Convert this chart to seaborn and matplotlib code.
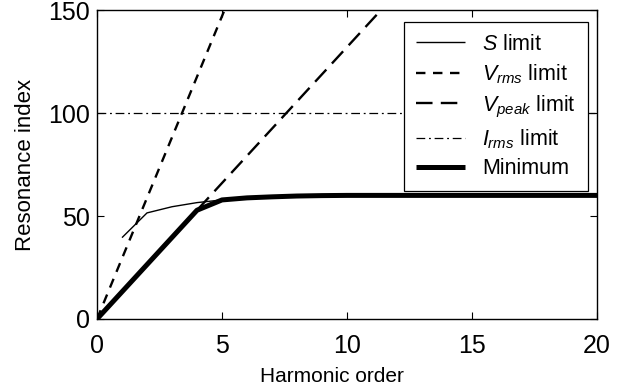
import matplotlib
matplotlib.use("Agg")
import matplotlib.pyplot as plt
import seaborn as sns
import pandas as pd
import numpy as np

# ---- data ----
s_harm = [1, 2, 3, 4, 5, 6, 7, 8, 9, 10, 11, 12, 13, 14, 15, 16, 17, 18, 19, 20]
s_limit = [39.5, 51.5, 54.5, 56.5, 57.8, 58.8, 59.3, 59.7, 59.9, 60, 60, 60, 60, 60, 60, 60, 60, 60, 60, 60]
vrms_harm = [0, 1, 2, 3, 4, 5, 6]
vrms_limit = [0, 29.4, 58.8, 88.2, 117.6, 147, 176.4]
vpeak_harm = [0, 1, 2, 3, 4, 5, 6, 7, 8, 9, 10, 11, 12, 13]
vpeak_limit = [0, 13.2, 26.4, 39.6, 52.8, 66, 79.2, 92.4, 105.6, 118.8, 132, 145.2, 158.4, 171.6]
irms_harm = [0, 20]
irms_limit = [100, 100]
min_harm = [0, 1, 2, 3, 4, 5, 6, 7, 8, 9, 10, 11, 12, 13, 14, 15, 16, 17, 18, 19, 20]
minimum = [0, 13.2, 26.4, 39.6, 52.8, 57.8, 58.8, 59.3, 59.7, 59.9, 60, 60, 60, 60, 60, 60, 60, 60, 60, 60, 60]

x_ticks = [0, 5, 10, 15, 20]
y_ticks = [0, 50, 100, 150]

sns.set_theme(style="ticks")
plt.rcParams["font.family"] = ["Liberation Sans", "DejaVu Sans"]
plt.rcParams["mathtext.fontset"] = "custom"
plt.rcParams["mathtext.rm"] = "Liberation Sans"
plt.rcParams["mathtext.it"] = "Liberation Sans:italic"
plt.rcParams["text.color"] = "black"
plt.rcParams["axes.labelcolor"] = "black"

fig = plt.figure(figsize=(6.23, 3.92), dpi=100)
ax = fig.add_axes([97 / 623, 1 - 319 / 392, 500 / 623, 309 / 392])

sns.lineplot(x=s_harm, y=s_limit, ax=ax, color="black", lw=1.0,
             label=r"$S$ limit")
sns.lineplot(x=vrms_harm, y=vrms_limit, ax=ax, color="black", lw=1.7,
             label=r"$V_{rms}$ limit")
sns.lineplot(x=vpeak_harm, y=vpeak_limit, ax=ax, color="black", lw=1.7,
             label=r"$V_{peak}$ limit")
sns.lineplot(x=irms_harm, y=irms_limit, ax=ax, color="black", lw=0.9,
             label=r"$I_{rms}$ limit")
sns.lineplot(x=min_harm, y=minimum, ax=ax, color="black", lw=3.6,
             label="Minimum")

lines = ax.get_lines()
lines[1].set_dashes([4.0, 3.2])
lines[2].set_dashes([7.0, 3.5])
lines[3].set_dashes([7, 3, 1.5, 3])
for ln in lines:
    ln.set_solid_capstyle("butt")

ax.set_xlim(0, 20)
ax.set_ylim(0, 150)
ax.set_xticks(x_ticks)
ax.set_yticks(y_ticks)
ax.tick_params(direction="in", length=5, width=0.8, labelsize=18,
               top=True, right=True, colors="black", labelcolor="black", pad=5)
ax.tick_params(axis="x", pad=11)
for sp in ax.spines.values():
    sp.set_visible(True)
    sp.set_color("black")
    sp.set_linewidth(1.0)

ax.set_xlabel("Harmonic order", fontsize=15, labelpad=5, color="black")
ax.xaxis.set_label_coords(0.47, -0.155)
ax.set_ylabel("Resonance index", fontsize=16, labelpad=9, color="black")

leg = ax.legend(loc="upper right", bbox_to_anchor=((588 - 97) / 500, (319 - 22) / 309),
                borderaxespad=0, fontsize=15.5, frameon=True, fancybox=False,
                framealpha=1, edgecolor="black", handlelength=2.3,
                handletextpad=0.8, labelspacing=0.35, borderpad=0.55)
leg.get_frame().set_linewidth(0.9)
for t in leg.get_texts():
    t.set_color("black")

fig.savefig("out.png", dpi=100)
